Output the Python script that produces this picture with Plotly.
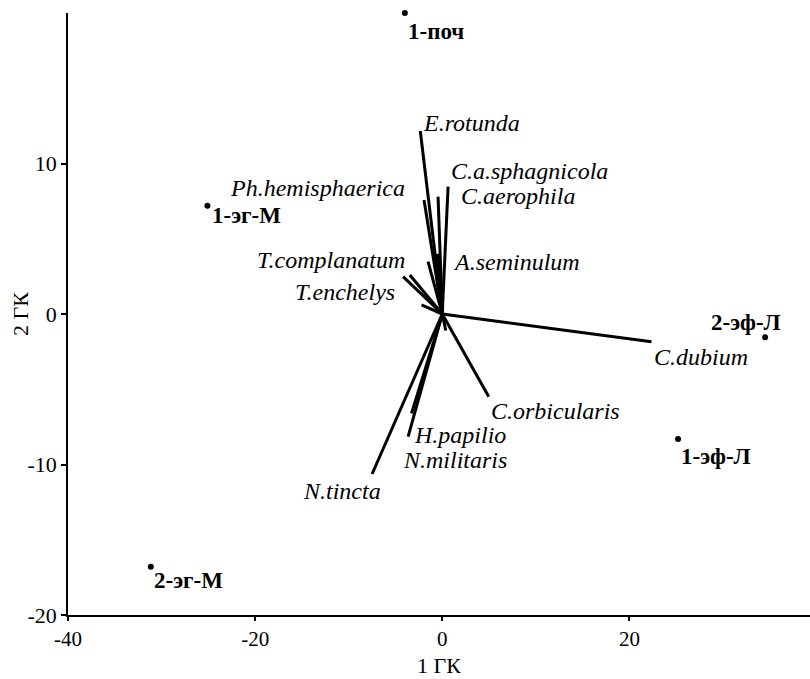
import plotly.graph_objects as go

# Species loadings on the first two principal components (1 ГК, 2 ГК)
species = ["E.rotunda", "C.a.sphagnicola", "C.aerophila", "Ph.hemisphaerica",
           "A.seminulum", "T.complanatum", "T.enchelys", "C.dubium",
           "C.orbicularis", "H.papilio", "N.militaris", "N.tincta"]
species_pc1 = [-2.35, 0.62, -0.45, -1.95, -1.52, -4.19, -3.47, 22.36, 4.97, -3.65, -3.29, -7.5]
species_pc2 = [12.16, 8.46, 7.8, 7.57, 3.48, 2.48, 2.59, -1.84, -5.5, -8.15, -6.6, -10.63]

# Further short, unlabelled species vectors
other_pc1 = [-0.53, -2.22, 0.37]
other_pc2 = [4.0, 0.6, -1.1]

# Site scores
sites = ["1-поч", "1-эг-М", "2-эф-Л", "1-эф-Л", "2-эг-М"]
site_pc1 = [-4.0, -25.1, 34.5, 25.2, -31.15]
site_pc2 = [20.0, 7.2, -1.55, -8.3, -16.8]

x_ticks = [-40, -20, 0, 20]
y_ticks = [-20, -10, 0, 10]

SERIF = "Liberation Serif"

# label placement: (xanchor, xshift px, yshift px)
species_label_pos = {
    "E.rotunda": ("left", 1, 8),
    "C.a.sphagnicola": ("left", 1, 16),
    "C.aerophila": ("left", 21, 1),
    "Ph.hemisphaerica": ("right", -17, 12),
    "A.seminulum": ("left", 23, 0),
    "T.complanatum": ("right", 4, 17),
    "T.enchelys": ("right", -13, -17),
    "C.dubium": ("left", 1, -15),
    "C.orbicularis": ("left", 0, -14),
    "H.papilio": ("left", 4, 2),
    "N.militaris": ("left", -10, -47),
    "N.tincta": ("right", 11, -17),
}
site_label_pos = {
    "1-поч": ("left", 1, -18),
    "1-эг-М": ("left", 3, -10),
    "2-эф-Л": ("center", -19, 15),
    "1-эф-Л": ("left", 1, -18),
    "2-эг-М": ("left", 1, -14),
}

fig = go.Figure()

# Species vectors drawn from the origin
vx, vy = [], []
for x, y in zip(species_pc1 + other_pc1, species_pc2 + other_pc2):
    vx += [0, x, None]
    vy += [0, y, None]
fig.add_trace(go.Scatter(x=vx, y=vy, mode="lines",
                         line=dict(color="black", width=3), hoverinfo="skip"))

# Site points
fig.add_trace(go.Scatter(x=site_pc1, y=site_pc2, mode="markers",
                         marker=dict(color="black", size=6), text=sites,
                         hoverinfo="text", cliponaxis=False))

annotations = []
for name, x, y in zip(species, species_pc1, species_pc2):
    anchor, dx, dy = species_label_pos[name]
    annotations.append(dict(x=x, y=y, text="<i>" + name + "</i>", showarrow=False,
                            xanchor=anchor, yanchor="middle", xshift=dx, yshift=dy,
                            font=dict(family=SERIF, size=24, color="black")))
for name, x, y in zip(sites, site_pc1, site_pc2):
    anchor, dx, dy = site_label_pos[name]
    annotations.append(dict(x=x, y=y, text="<b>" + name + "</b>", showarrow=False,
                            xanchor=anchor, yanchor="middle", xshift=dx, yshift=dy,
                            font=dict(family=SERIF, size=23, color="black")))

# Axis titles
annotations.append(dict(x=0.5, y=0, xref="paper", yref="paper", text="1 ГК",
                        showarrow=False, xanchor="center", yanchor="middle",
                        yshift=-50, font=dict(family=SERIF, size=22, color="black")))
annotations.append(dict(x=0, y=0.5, xref="paper", yref="paper", text="2 ГК",
                        showarrow=False, xanchor="center", yanchor="middle",
                        xshift=-48, textangle=-90,
                        font=dict(family=SERIF, size=22, color="black")))

fig.update_layout(
    width=810, height=679,
    margin=dict(l=68, r=0, t=13, b=64),
    plot_bgcolor="white", paper_bgcolor="white",
    showlegend=False,
    annotations=annotations,
    font=dict(family=SERIF, size=21, color="black"),
    xaxis=dict(range=[-40, 39.3], tickvals=x_ticks,
               ticktext=[str(v) for v in x_ticks], ticks="outside", ticklen=4,
               tickwidth=1.5, tickcolor="black", showline=True, linecolor="black",
               linewidth=1.5, showgrid=False, zeroline=False,
               tickfont=dict(family=SERIF, size=21, color="black")),
    yaxis=dict(range=[-20, 20], tickvals=y_ticks,
               ticktext=[str(v) for v in y_ticks], ticks="outside", ticklen=5,
               tickwidth=1.5, tickcolor="black", showline=True, linecolor="black",
               linewidth=1.5, showgrid=False, zeroline=False,
               tickfont=dict(family=SERIF, size=22, color="black")),
)

fig.write_html("out.html")
